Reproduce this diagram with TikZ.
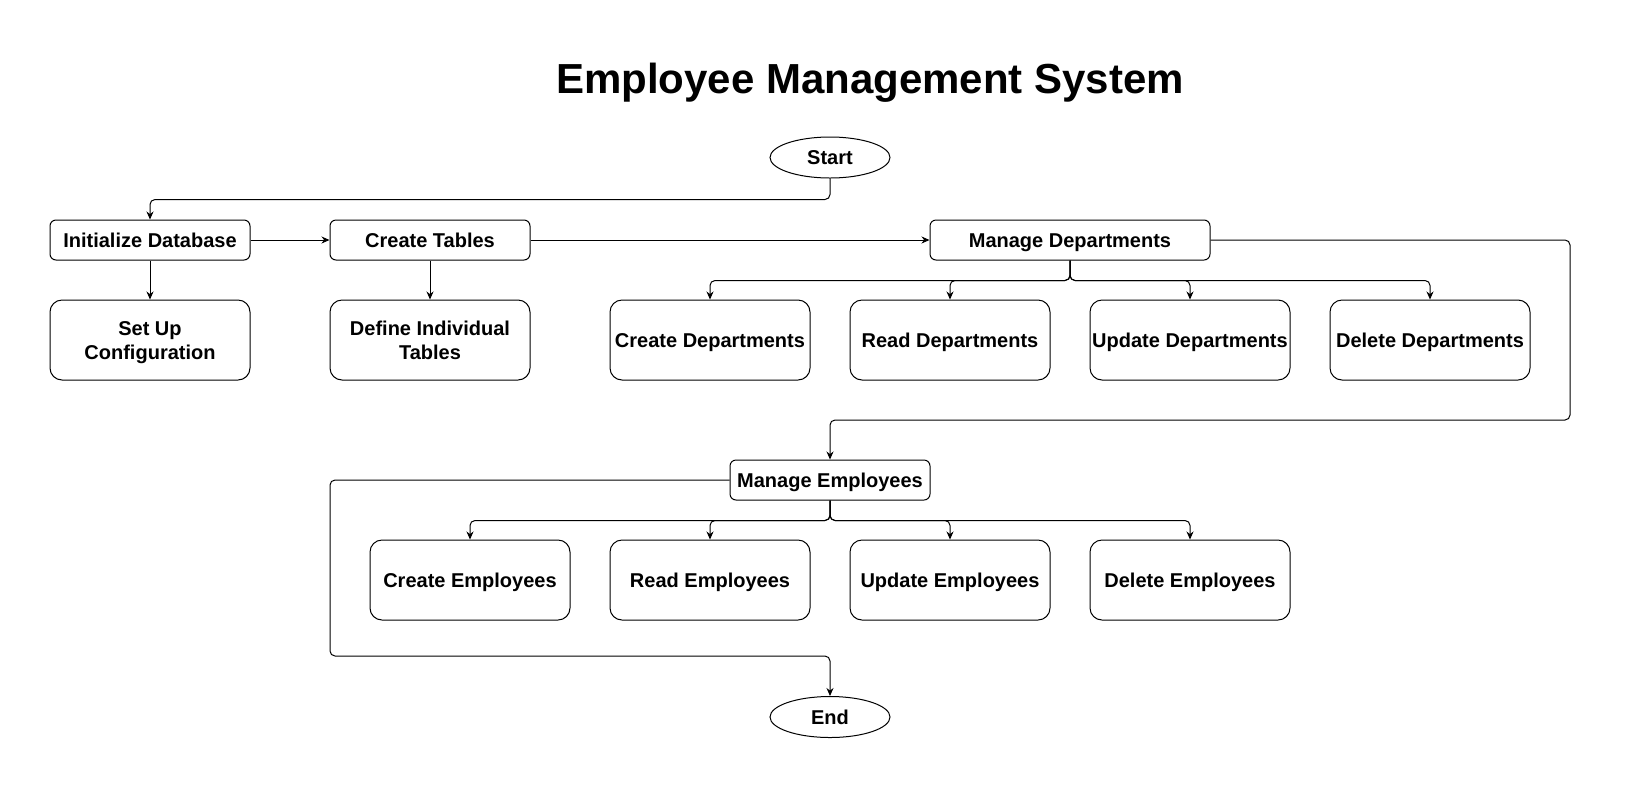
\documentclass[tikz,border=0pt]{standalone}
\usepackage{fontspec}
\setmainfont{Liberation Sans}
\usetikzlibrary{shapes.geometric,arrows.meta}
\tikzset{
  base_n/.style = {align=center, inner sep=0pt, text centered, font=\bfseries\fontsize{20}{24}\selectfont, draw=black, line width=1pt, text height=18.5pt, text depth=4.2pt},
  two_l/.style = {text height=42.5pt},
  box_s/.style = {base_n, rectangle, rounded corners=6pt, minimum width=200pt, minimum height=40pt},
  box_w/.style = {box_s, minimum width=280pt},
  box_t/.style = {base_n, rectangle, rounded corners=12pt, minimum width=200pt, minimum height=80pt},
  term_n/.style = {base_n, ellipse, minimum width=120pt, minimum height=41pt},
  title_n/.style = {font=\bfseries\fontsize{42}{50}\selectfont, inner sep=0pt, anchor=base},
  link/.style = {draw=black, line width=1pt, rounded corners=5pt, -{Stealth[length=8pt,width=7pt]}}
}
\begin{document}
\begin{tikzpicture}[x=1pt, y=-1pt]
	\useasboundingbox (0,0) rectangle (1629,788);
	\node [title_n] (title) at (870,93) {Employee Management System};
	\node [term_n] (start) at (830,157.5) {Start};
	\node [box_s] (initdb) at (150,240) {Initialize Database};
	\node [box_t, two_l] (setup) at (150,340) {Set Up\\Configuration};
	\node [box_s] (tables) at (430,240) {Create Tables};
	\node [box_t, two_l] (define) at (430,340) {Define Individual\\Tables};
	\node [box_w] (mdept) at (1070,240) {Manage Departments};
	\node [box_t] (cdept) at (710,340) {Create Departments};
	\node [box_t] (rdept) at (950,340) {Read Departments};
	\node [box_t] (udept) at (1190,340) {Update Departments};
	\node [box_t] (ddept) at (1430,340) {Delete Departments};
	\node [box_s] (memp) at (830,480) {Manage Employees};
	\node [box_t] (cemp) at (470,580) {Create Employees};
	\node [box_t] (remp) at (710,580) {Read Employees};
	\node [box_t] (uemp) at (950,580) {Update Employees};
	\node [box_t] (demp) at (1190,580) {Delete Employees};
	\node [term_n] (end) at (830,717) {End};
	\coordinate (loop_r) at (1570,420);
	\coordinate (loop_l) at (330,656);

	\draw [link] (start.south) -- ++(0,21) -| (initdb.north);
	\draw [link] (initdb.east) -- (tables.west);
	\draw [link] (initdb.south) -- (setup.north);
	\draw [link] (tables.south) -- (define.north);
	\draw [link] (tables.east) -- (mdept.west);
	\foreach \kid in {cdept,rdept,udept,ddept}
		\draw [link] (mdept.south) -- ++(0,20) -| (\kid.north);
	\draw [link] (mdept.east) -| (loop_r) -| (memp.north);
	\foreach \kid in {cemp,remp,uemp,demp}
		\draw [link] (memp.south) -- ++(0,20) -| (\kid.north);
	\draw [link] (memp.west) -| (loop_l) -| (end.north);
\end{tikzpicture}
\end{document}
